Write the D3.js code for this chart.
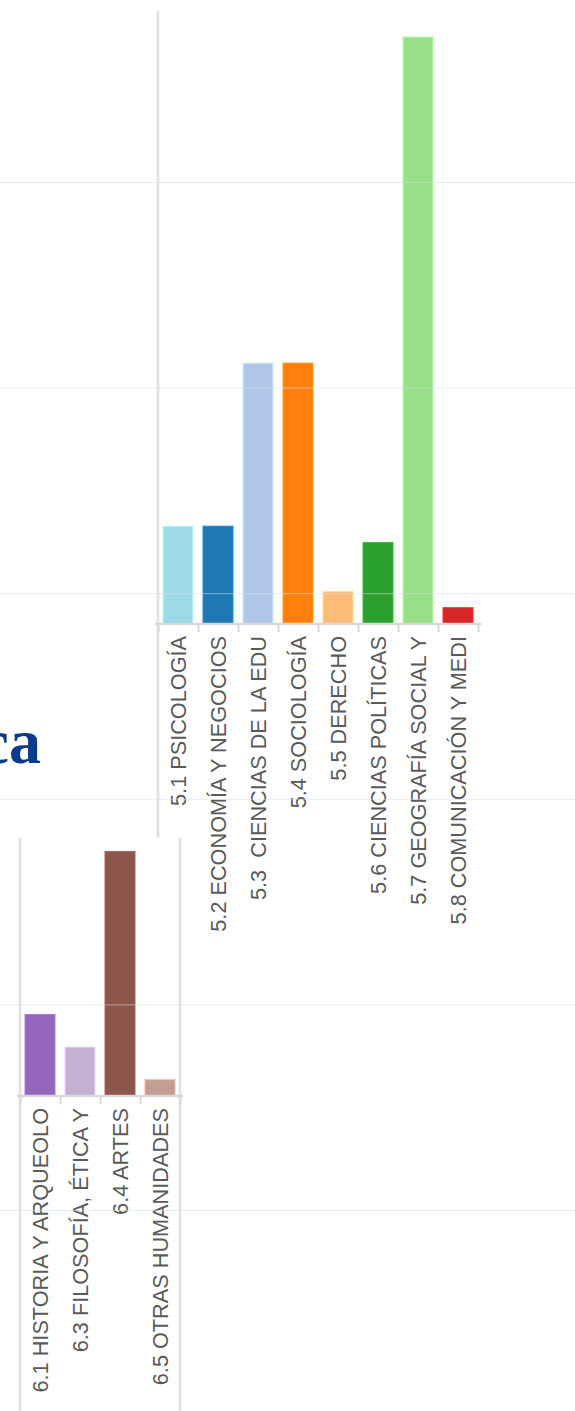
<!DOCTYPE html>
<html>
<head>
<meta charset="utf-8">
<script src="https://cdn.jsdelivr.net/npm/d3@7"></script>
<style>
  body { margin: 0; background: #fff; }
  svg { display: block; }
  .lbl { font-family: "Liberation Sans", Arial, sans-serif; font-size: 21.7px; fill: #5a5a5a; white-space: pre; }
  .title { font-family: "Liberation Serif", "DejaVu Serif", serif; font-weight: bold; font-size: 64px; fill: #0b3a8a; }
</style>
</head>
<body>
<svg id="chart"></svg>
<script>
// datos: área 5 (ciencias sociales)
const socialCategories = [
    "5.1 PSICOLOGÍA",
    "5.2 ECONOMÍA Y NEGOCIOS",
    "5.3  CIENCIAS DE LA EDU",
    "5.4 SOCIOLOGÍA",
    "5.5 DERECHO",
    "5.6 CIENCIAS POLÍTICAS",
    "5.7 GEOGRAFÍA SOCIAL Y",
    "5.8 COMUNICACIÓN Y MEDI"
];
const socialValues = [6, 6, 16, 16, 2, 5, 36, 1];
const socialColors = ["#9edae5", "#1f77b4", "#aec7e8", "#ff7f0e", "#ffbb78", "#2ca02c", "#98df8a", "#d62728"];

// datos: área 6 (humanidades)
const humanCategories = [
    "6.1 HISTORIA Y ARQUEOLO",
    "6.3 FILOSOFÍA, ÉTICA Y",
    "6.4 ARTES",
    "6.5 OTRAS HUMANIDADES"
];
const humanValues = [5, 3, 15, 1];
const humanColors = ["#9467bd", "#c5b0d5", "#8c564b", "#c49c94"];

// líneas guía de la diapositiva
const guideRows = [1, 2, 3, 4, 5, 6];
const titleText = "ca";
const yMax = 36;

const width = 575;
const height = 1411;

const svg = d3.select('#chart')
    .attr('width', width)
    .attr('height', height);

// panel de barras con eje inferior y etiquetas giradas
function drawPanel(cfg) {
    const g = svg.append('g');

    const x = d3.scaleBand()
        .domain(cfg.categories)
        .range([cfg.x0, cfg.x1])
        .paddingInner(0.25)
        .paddingOuter(0.125);

    const y = d3.scaleLinear()
        .domain([0, yMax])
        .range([cfg.baseline, cfg.baseline - 587]);

    // líneas del marco
    cfg.frame.forEach(fx => {
        g.append('line')
            .attr('x1', fx).attr('x2', fx)
            .attr('y1', cfg.frameTop).attr('y2', cfg.frameBottom)
            .attr('stroke', '#e0e0e0')
            .attr('stroke-width', 2.5);
    });

    g.selectAll('rect')
        .data(cfg.values)
        .enter()
        .append('rect')
        .attr('x', (_, i) => x(cfg.categories[i]))
        .attr('y', d => y(d))
        .attr('width', x.bandwidth())
        .attr('height', d => y(0) - y(d))
        .attr('fill', (_, i) => cfg.colors[i])
        .attr('stroke', (_, i) => d3.color(cfg.colors[i]).brighter(0.5))
        .attr('stroke-width', 1);

    // eje con marcas en los límites de cada categoría
    const edges = d3.scaleLinear()
        .domain([0, cfg.categories.length])
        .range([cfg.x0, cfg.x1]);

    const axis = g.append('g')
        .attr('transform', `translate(0,${cfg.baseline})`)
        .call(d3.axisBottom(edges)
            .ticks(cfg.categories.length)
            .tickSize(8)
            .tickSizeOuter(0)
            .tickFormat(''));
    axis.select('.domain')
        .attr('stroke', '#d8d8d8')
        .attr('stroke-width', 2.5)
        .attr('d', `M${cfg.x0 - 3},0H${cfg.x1 + 3}`);
    axis.selectAll('.tick line')
        .attr('stroke', '#d8d8d8')
        .attr('stroke-width', 2);

    g.selectAll('text.lbl')
        .data(cfg.categories)
        .enter()
        .append('text')
        .attr('class', 'lbl')
        .attr('text-anchor', 'end')
        .attr('dy', '0.36em')
        .attr('transform', d => `translate(${x(d) + x.bandwidth() / 2},${cfg.baseline + 12}) rotate(-90)`)
        .text(d => d);
}

drawPanel({
    categories: socialCategories,
    values: socialValues,
    colors: socialColors,
    x0: 158, x1: 478,
    baseline: 624,
    frame: [158],
    frameTop: 11, frameBottom: 838
});

drawPanel({
    categories: humanCategories,
    values: humanValues,
    colors: humanColors,
    x0: 20, x1: 180,
    baseline: 1096,
    frame: [20, 180],
    frameTop: 838, frameBottom: height
});

// título cortado a la izquierda
svg.append('text')
    .attr('class', 'title')
    .attr('x', 41)
    .attr('y', 763)
    .attr('text-anchor', 'end')
    .text(titleText);

// guías horizontales por encima de todo
const guideY = d3.scaleLinear().domain([1, 6]).range([182, 1210]);
svg.append('g')
    .selectAll('line')
    .data(guideRows)
    .enter()
    .append('line')
    .attr('x1', 0).attr('x2', width)
    .attr('y1', d => guideY(d) + 0.5)
    .attr('y2', d => guideY(d) + 0.5)
    .attr('stroke', '#d5dcea')
    .attr('stroke-opacity', 0.55)
    .attr('stroke-width', 1);
</script>
</body>
</html>
